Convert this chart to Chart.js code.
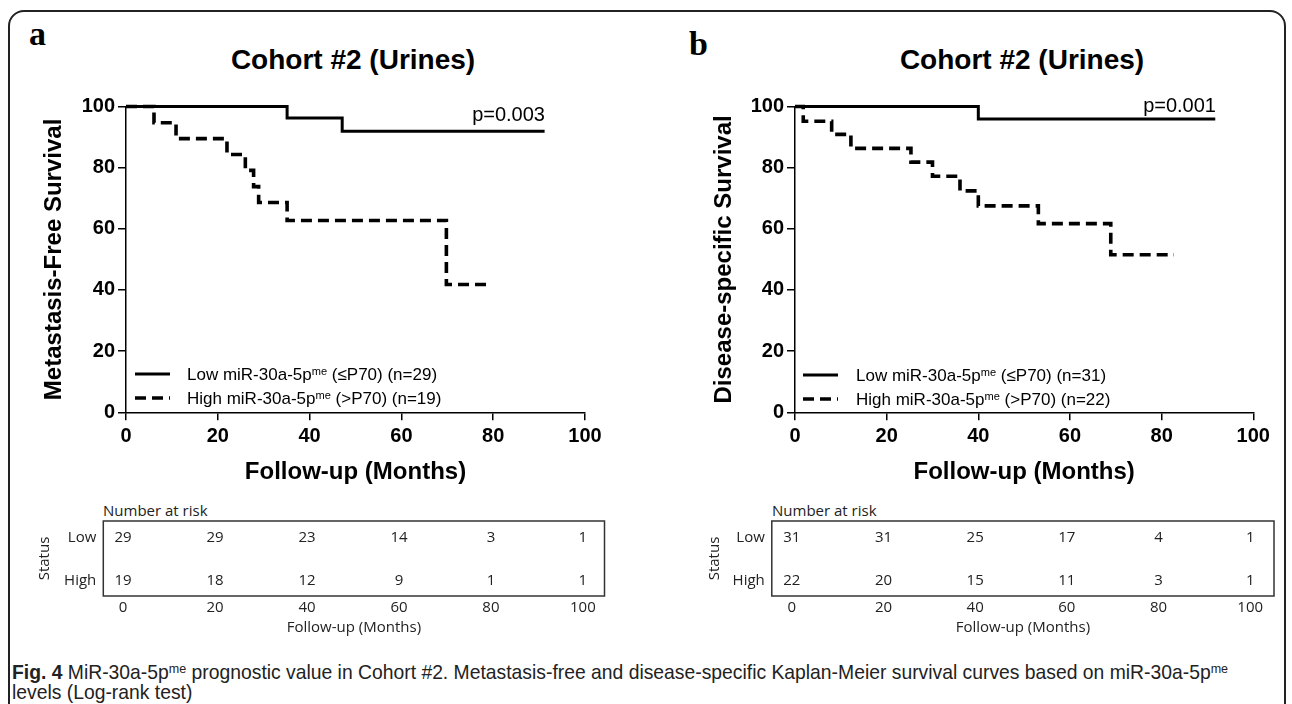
<!DOCTYPE html>
<html>
<head>
<meta charset="utf-8">
<script src="https://cdn.jsdelivr.net/npm/chart.js@4.4.1/dist/chart.umd.min.js"></script>
<style>
  body { margin: 0; background: #fff; width: 1292px; height: 704px; overflow: hidden; position: relative;
         font-family: "Liberation Sans", Arial, sans-serif; color: #000; }
  .abs { position: absolute; white-space: nowrap; }
  #frame { left: 8px; top: 10px; width: 1274px; height: 760px; border: 2px solid #222; border-radius: 16px; }
  .panel { font-family: "Liberation Serif", serif; font-weight: bold; font-size: 34px; line-height: 34px; }
  .title { font-weight: bold; font-size: 28px; line-height: 28px; transform: translateX(-50%); }
  .pval { font-size: 20px; line-height: 20px; transform: translateX(-100%); }
  .leg { font-size: 17px; line-height: 17px; }
  .leg sup, .cap sup { font-size: 0.65em; vertical-align: 0; position: relative; top: -0.45em; }
  .risk { font-family: "Open Sans", sans-serif; font-size: 15px; line-height: 15px; color: #222; }
  .cap { font-family: "Liberation Sans", sans-serif; font-size: 21px; line-height: 22px; color: #222;
         transform: scaleX(0.92); transform-origin: 0 0; }
  canvas { position: absolute; }
</style>
</head>
<body>
<div id="frame" class="abs"></div>

<div class="abs panel" style="left:29px; top:17px;">a</div>
<div class="abs panel" style="left:689px; top:27px;">b</div>

<div class="abs title" style="left:353px; top:46px;">Cohort #2 (Urines)</div>
<div class="abs title" style="left:1022px; top:46px;">Cohort #2 (Urines)</div>

<canvas id="kmA" width="640" height="490" style="left:0; top:0;"></canvas>
<canvas id="kmB" width="632" height="490" style="left:660px; top:0;"></canvas>

<div class="abs pval" style="left:545px; top:104px;">p=0.003</div>
<div class="abs pval" style="left:1216px; top:95px;">p=0.001</div>

<!-- legends -->
<svg class="abs" style="left:135px; top:364px;" width="36" height="40">
  <line x1="0" y1="10" x2="35" y2="10" stroke="#000" stroke-width="3"/>
  <line x1="0" y1="34" x2="35" y2="34" stroke="#000" stroke-width="3.6" stroke-dasharray="11 6"/>
</svg>
<div class="abs leg" style="left:187px; top:366px;">Low miR-30a-5p<sup>me</sup> (≤P70) (n=29)</div>
<div class="abs leg" style="left:187px; top:390px;">High miR-30a-5p<sup>me</sup> (&gt;P70) (n=19)</div>

<svg class="abs" style="left:803px; top:365px;" width="36" height="40">
  <line x1="0" y1="10" x2="35" y2="10" stroke="#000" stroke-width="3"/>
  <line x1="0" y1="34" x2="35" y2="34" stroke="#000" stroke-width="3.6" stroke-dasharray="11 6"/>
</svg>
<div class="abs leg" style="left:856px; top:367px;">Low miR-30a-5p<sup>me</sup> (≤P70) (n=31)</div>
<div class="abs leg" style="left:856px; top:391px;">High miR-30a-5p<sup>me</sup> (&gt;P70) (n=22)</div>

<!-- risk tables -->
<div class="abs risk" style="left:103px; top:503px;">Number at risk</div>
<div class="abs risk" style="left:772px; top:503px;">Number at risk</div>
<canvas id="riskA" width="640" height="150" style="left:0; top:495px;"></canvas>
<canvas id="riskB" width="642" height="150" style="left:650px; top:495px;"></canvas>

<div class="abs cap" style="left:12px; top:661px;"><b>Fig. 4</b> MiR-30a-5p<sup>me</sup> prognostic value in Cohort #2. Metastasis-free and disease-specific Kaplan-Meier survival curves based on miR-30a-5p<sup>me</sup></div>
<div class="abs cap" style="left:12px; top:681px;">levels (Log-rank test)</div>

<script>
// ========================================
// DATA
// ========================================
// a: metastasis-free survival
const mfsLowMonths = [0, 35.1, 47.1, 91.2];
const mfsLowSurv = [100, 96.2, 91.9, 91.9];
const mfsHighMonths = [0, 6.1, 10.9, 22.0, 26.0, 27.8, 28.9, 35.1, 69.8, 79.0];
const mfsHighSurv = [100, 94.7, 89.5, 84.3, 79.1, 73.8, 68.6, 62.7, 41.8, 41.8];

// b: disease-specific survival
const dssLowMonths = [0, 40.0, 91.7];
const dssLowSurv = [100, 95.9, 95.9];
const dssHighMonths = [0, 1.8, 8.0, 12.2, 25.3, 30.0, 36.0, 40.0, 53.1, 68.9, 82.7];
const dssHighSurv = [100, 95.2, 90.9, 86.3, 81.8, 77.2, 72.4, 67.5, 61.7, 51.5, 51.5];

// number at risk
const riskTimes = [0, 20, 40, 60, 80, 100];
const statusLabels = ["Low", "High"];
const riskA = [[29, 29, 23, 14, 3, 1], [19, 18, 12, 9, 1, 1]];
const riskB = [[31, 31, 25, 17, 4, 1], [22, 20, 15, 11, 3, 1]];

const yTicks = [0, 20, 40, 60, 80, 100];

Chart.defaults.color = "#000";
Chart.defaults.font.family = '"Liberation Sans", Arial, sans-serif';

function toPoints(xs, ys) {
  return xs.map((x, i) => ({ x: x, y: ys[i] }));
}

// ========================================
// KAPLAN-MEIER PANELS
// ========================================
function makeKm(id, low, high, yTitle, pad, yWidth) {
  const axisGrid = { display: true, drawOnChartArea: false, drawTicks: true, tickLength: 8, color: "#000", lineWidth: 1.5 };
  const axisBorder = { display: true, color: "#000", width: 1.5 };
  const tickFont = { size: 20, weight: "bold" };
  const titleFont = { size: 24, weight: "bold" };

  new Chart(document.getElementById(id), {
    type: "line",
    data: {
      datasets: [
        {
          data: low,
          borderColor: "#000",
          borderWidth: 3,
          stepped: true,
          pointRadius: 0,
          clip: false,
          borderCapStyle: "butt",
          borderJoinStyle: "miter",
        },
        {
          data: high,
          borderColor: "#000",
          borderWidth: 3.6,
          borderDash: [11, 6],
          stepped: true,
          pointRadius: 0,
          clip: false,
          borderCapStyle: "butt",
          borderJoinStyle: "miter",
        },
      ],
    },
    options: {
      responsive: false,
      animation: false,
      layout: { padding: pad },
      plugins: { legend: { display: false }, tooltip: { enabled: false } },
      scales: {
        x: {
          type: "linear",
          min: 0,
          max: 100,
          ticks: { stepSize: 20, font: tickFont, padding: 4 },
          grid: axisGrid,
          border: axisBorder,
          title: { display: true, text: "Follow-up (Months)", font: titleFont, padding: 0 },
          afterFit: (s) => { s.height = 74.1; },
        },
        y: {
          type: "linear",
          min: 0,
          max: 100,
          afterBuildTicks: (s) => { s.ticks = yTicks.map((v) => ({ value: v })); },
          ticks: { font: tickFont, padding: 3 },
          grid: axisGrid,
          border: axisBorder,
          title: { display: true, text: yTitle, font: titleFont, padding: { top: 4, bottom: 0 } },
          afterFit: (s) => { s.width = yWidth; },
        },
      },
    },
  });
}

makeKm("kmA", toPoints(mfsLowMonths, mfsLowSurv), toPoints(mfsHighMonths, mfsHighSurv),
  "Metastasis-Free Survival", { left: 36, top: 106.5, right: 55, bottom: 3.6 }, 90);
makeKm("kmB", toPoints(dssLowMonths, dssLowSurv), toPoints(dssHighMonths, dssHighSurv),
  "Disease-specific Survival", { left: 45.6, top: 106.5, right: 38.7, bottom: 3.6 }, 89.4);

// ========================================
// NUMBER-AT-RISK TABLES
// ========================================
const riskTextPlugin = {
  id: "riskText",
  afterDraw(chart, args, opts) {
    const { ctx, chartArea: a, scales } = chart;
    ctx.save();
    ctx.strokeStyle = "#333";
    ctx.lineWidth = 1.5;
    ctx.strokeRect(a.left, a.top, a.right - a.left, a.bottom - a.top);
    ctx.font = '15px "Open Sans", sans-serif';
    ctx.fillStyle = "#222";
    ctx.textAlign = "center";
    ctx.textBaseline = "middle";
    opts.rows.forEach((row, r) => {
      row.forEach((v, i) => {
        ctx.fillText(String(v), scales.x.getPixelForValue(riskTimes[i]), scales.y.getPixelForValue(r));
      });
    });
    ctx.restore();
  },
};

function makeRisk(id, rows, xMin, xMax, pad, yWidth) {
  const f = { family: '"Open Sans", sans-serif', size: 15 };
  const noGrid = { display: false, drawTicks: false };
  new Chart(document.getElementById(id), {
    type: "scatter",
    data: { datasets: [{ data: [] }] },
    plugins: [riskTextPlugin],
    options: {
      responsive: false,
      animation: false,
      layout: { padding: pad },
      plugins: { legend: { display: false }, tooltip: { enabled: false }, riskText: { rows: rows } },
      scales: {
        x: {
          type: "linear",
          min: xMin,
          max: xMax,
          afterBuildTicks: (s) => { s.ticks = riskTimes.map((v) => ({ value: v })); },
          ticks: { font: f, color: "#222", padding: 3 },
          grid: noGrid,
          border: { display: false },
          title: { display: true, text: "Follow-up (Months)", font: f, color: "#222", padding: 0 },
          afterFit: (s) => { s.height = 40.7; },
        },
        y: {
          type: "linear",
          reverse: true,
          min: -0.395,
          max: 1.349,
          afterBuildTicks: (s) => { s.ticks = [0, 1].map((v) => ({ value: v })); },
          ticks: { font: f, color: "#222", padding: 7, callback: (v) => statusLabels[v] },
          grid: noGrid,
          border: { display: false },
          title: { display: true, text: "Status", font: f, color: "#222", padding: { top: 4, bottom: 0 } },
          afterFit: (s) => { s.width = yWidth; },
        },
      },
    },
  });
}

makeRisk("riskA", riskA, -4.3, 104.7, { left: 32, top: 26, right: 35.5, bottom: 8.3 }, 71.3);
makeRisk("riskB", riskB, -4.36, 105.2, { left: 52, top: 26, right: 18, bottom: 8.3 }, 69.8);
</script>
</body>
</html>
